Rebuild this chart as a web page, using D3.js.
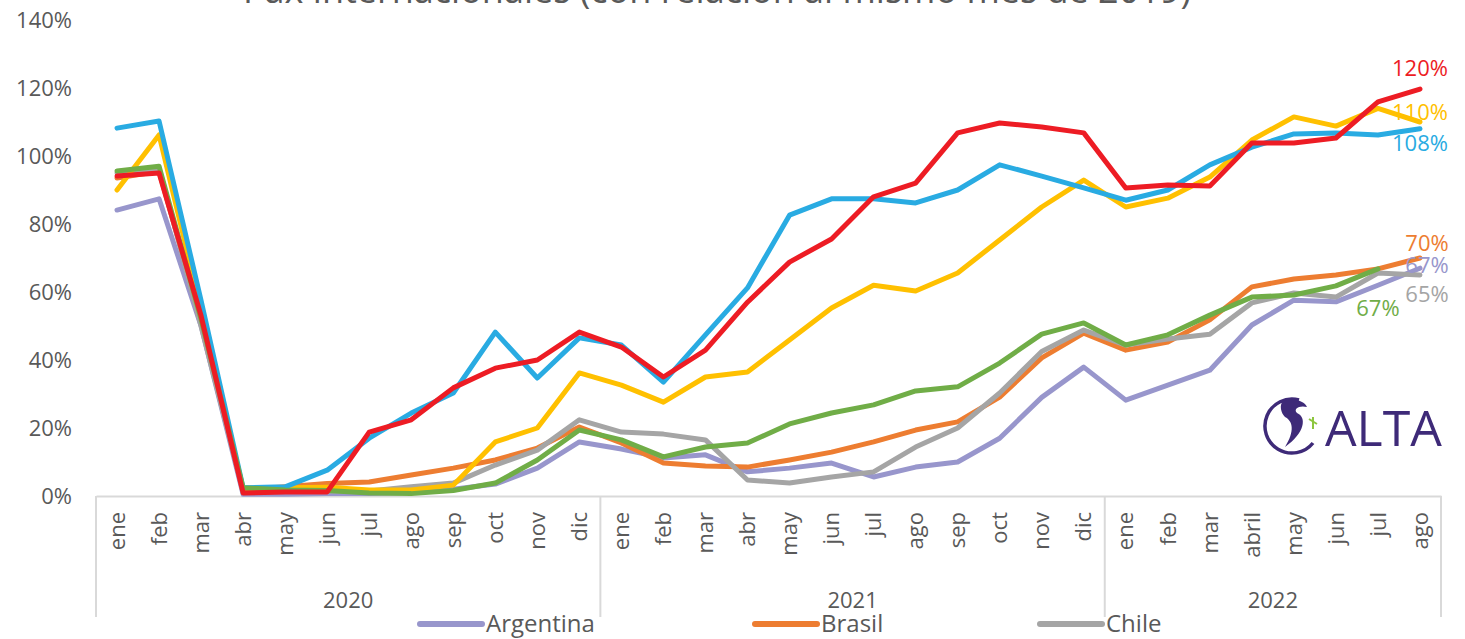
<!DOCTYPE html>
<html>
<head>
<meta charset="utf-8">
<script src="https://cdn.jsdelivr.net/npm/d3@7"></script>
<style>
  body { margin: 0; background: #fff; }
  svg { display: block; font-family: "Open Sans", "Noto Sans", sans-serif; }
</style>
</head>
<body>
<div id="chart"></div>
<script>
// Pax internacionales - line chart, % vs same month of 2019

const titleText = 'Pax internacionales (con relación al mismo mes de 2019)';

const years = ['2020', '2021', '2022'];
const months2020 = ['ene', 'feb', 'mar', 'abr', 'may', 'jun', 'jul', 'ago', 'sep', 'oct', 'nov', 'dic'];
const months2021 = ['ene', 'feb', 'mar', 'abr', 'may', 'jun', 'jul', 'ago', 'sep', 'oct', 'nov', 'dic'];
const months2022 = ['ene', 'feb', 'mar', 'abril', 'may', 'jun', 'jul', 'ago'];

const yTicks = [0, 20, 40, 60, 80, 100, 120, 140];

const countries = ['Argentina', 'Brasil', 'Chile', 'Colombia', 'México', 'Perú', 'Rep. Dominicana'];

const argentina = [84.1, 87.4, 50, 0.5, 0.5, 0.7, 0.7, 1.0, 2.0, 3.5, 8.2, 15.9,
    13.8, 11.2, 12.1, 7.1, 8.2, 9.7, 5.6, 8.5, 10.0, 17.0, 29.0, 37.9,
    28.2, 32.6, 37.0, 50.3, 57.6, 57.1, 62.0, 67.0];
const brasil = [93.5, 95.5, 52, 1.8, 2.7, 3.7, 4.1, 6.2, 8.2, 10.6, 14.1, 20.3,
    15.6, 9.7, 8.8, 8.5, 10.6, 12.9, 15.9, 19.4, 21.8, 29.1, 40.6, 47.9,
    42.9, 45.3, 51.8, 61.5, 63.8, 65.0, 66.8, 70.0];
const chile = [95.0, 96.5, 50, 1.5, 1.5, 1.5, 1.5, 2.7, 3.8, 9.1, 13.5, 22.4,
    18.8, 18.2, 16.5, 4.7, 3.8, 5.6, 7.1, 14.4, 20.0, 30.3, 42.5, 48.8,
    44.4, 46.2, 47.6, 56.8, 59.7, 58.5, 65.6, 65.0];
const colombia = [90.0, 106.2, 55, 1.8, 2.4, 2.6, 1.8, 1.8, 3.2, 15.9, 20.0, 36.2,
    32.6, 27.6, 35.0, 36.5, 45.9, 55.3, 62.0, 60.3, 65.6, 75.3, 85.0, 92.9,
    85.0, 87.6, 93.8, 104.7, 111.5, 108.8, 114.0, 110.0];
const mexico = [108.2, 110.3, 57.5, 2.4, 2.7, 7.6, 17.0, 24.4, 30.3, 48.2, 34.7, 46.5,
    44.4, 33.5, 47.4, 61.2, 82.6, 87.4, 87.4, 86.2, 90.0, 97.4, 94.1, 90.6,
    87.0, 90.0, 97.4, 102.6, 106.5, 106.8, 106.2, 108.0];
const peru = [95.6, 97.0, 52, 2.4, 1.8, 1.6, 0.9, 0.7, 1.6, 3.8, 10.6, 19.4,
    16.5, 11.5, 14.4, 15.6, 21.2, 24.4, 26.8, 30.9, 32.1, 39.1, 47.6, 50.9,
    44.4, 47.4, 53.2, 58.5, 59.1, 61.8, 66.8, null];
const repDominicana = [94.1, 95.0, 53, 0.9, 1.2, 1.2, 18.8, 22.4, 31.8, 37.6, 40.0, 48.2,
    43.8, 35.0, 42.9, 57.0, 68.8, 75.6, 88.0, 92.0, 106.8, 109.7, 108.5, 106.8,
    90.6, 91.5, 91.2, 103.8, 103.8, 105.3, 115.9, 119.7];

// styling, kept apart from the data
const colorMap = {
    'Argentina': '#9896cc',
    'Brasil': '#ed7d31',
    'Chile': '#a5a5a5',
    'Colombia': '#ffc000',
    'México': '#29abe2',
    'Perú': '#70ad47',
    'Rep. Dominicana': '#ed1c24'
};
// end label nudges (px) relative to last point
const labelNudge = {
    'Argentina': [7, -3],
    'Brasil': [7, -15],
    'Chile': [7, 19],
    'Colombia': [0, -10],
    'México': [0, 14],
    'Perú': [0, 39],
    'Rep. Dominicana': [0, -21]
};

const seriesValues = [argentina, brasil, chile, colombia, mexico, peru, repDominicana];
const monthGroups = [months2020, months2021, months2022];

const categories = [];
monthGroups.forEach((ms, yi) => ms.forEach(m => categories.push({ key: years[yi] + '-' + m, label: m, year: years[yi] })));

const series = countries.map((name, i) => ({
    name,
    values: seriesValues[i].map((v, j) => ({ key: categories[j].key, v }))
}));

const W = 1465, H = 639;
const margin = { top: 20, right: 24, bottom: 143, left: 96 };
const width = W - margin.left - margin.right;
const height = H - margin.top - margin.bottom;

const svg = d3.select('#chart').append('svg')
    .attr('width', W)
    .attr('height', H);

svg.append('text')
    .attr('x', 717)
    .attr('y', 3)
    .attr('text-anchor', 'middle')
    .attr('font-size', 36)
    .attr('fill', '#595959')
    .text(titleText);

const g = svg.append('g')
    .attr('transform', `translate(${margin.left},${margin.top})`);

const x = d3.scaleBand().domain(categories.map(d => d.key)).range([0, width]);
const y = d3.scaleLinear().domain([0, 140]).range([height, 0]);

// y axis - labels only
const yAxis = g.append('g')
    .call(d3.axisLeft(y).tickValues(yTicks).tickSize(0).tickPadding(24).tickFormat(d => d + '%'));
yAxis.select('.domain').remove();
yAxis.selectAll('text')
    .attr('font-size', 22)
    .attr('font-family', '"Open Sans", sans-serif')
    .attr('fill', '#595959');

// x axis - months rotated
const xAxis = g.append('g')
    .attr('transform', `translate(0,${height})`)
    .call(d3.axisBottom(x).tickSize(0).tickFormat(k => categories.find(c => c.key === k).label));
xAxis.select('.domain').attr('stroke', '#d9d9d9').attr('stroke-width', 2);
xAxis.selectAll('text')
    .attr('font-size', 22)
    .attr('font-family', '"Open Sans", sans-serif')
    .attr('fill', '#595959')
    .attr('transform', 'rotate(-90)')
    .attr('text-anchor', 'end')
    .attr('x', -16)
    .attr('y', 0)
    .attr('dy', '0.35em');

// year groups
const yearInfo = years.map(yr => {
    const keys = categories.filter(c => c.year === yr).map(c => c.key);
    return { yr, x0: x(keys[0]), x1: x(keys[keys.length - 1]) + x.bandwidth() };
});
const bounds = [0].concat(yearInfo.map(d => d.x1));
g.append('g').selectAll('line')
    .data(bounds)
    .join('line')
    .attr('x1', d => d).attr('x2', d => d)
    .attr('y1', height).attr('y2', height + 121)
    .attr('stroke', '#d9d9d9')
    .attr('stroke-width', 2);
g.append('g').selectAll('text')
    .data(yearInfo)
    .join('text')
    .attr('x', d => (d.x0 + d.x1) / 2)
    .attr('y', height + 112)
    .attr('text-anchor', 'middle')
    .attr('font-size', 22)
    .attr('fill', '#595959')
    .text(d => d.yr);

// lines
const line = d3.line()
    .defined(d => d.v != null)
    .x(d => x(d.key) + x.bandwidth() / 2)
    .y(d => y(d.v));

g.append('g').selectAll('path')
    .data(series)
    .join('path')
    .attr('fill', 'none')
    .attr('stroke', d => colorMap[d.name])
    .attr('stroke-width', 5)
    .attr('stroke-linejoin', 'round')
    .attr('stroke-linecap', 'round')
    .attr('d', d => line(d.values));

// end labels
g.append('g').selectAll('text')
    .data(series.map(s => {
        const pts = s.values.filter(p => p.v != null);
        return { name: s.name, last: pts[pts.length - 1] };
    }))
    .join('text')
    .attr('x', d => x(d.last.key) + x.bandwidth() / 2 + labelNudge[d.name][0])
    .attr('y', d => y(d.last.v) + labelNudge[d.name][1])
    .attr('dy', '0.35em')
    .attr('text-anchor', 'middle')
    .attr('font-size', 22)
    .attr('fill', d => colorMap[d.name])
    .text(d => Math.round(d.last.v) + '%');

// ALTA logo
const logo = svg.append('g').attr('transform', 'translate(1291,427)');
logo.append('path')
    .attr('d', 'M 8 -27 A 27 27 0 1 0 22 16')
    .attr('fill', 'none')
    .attr('stroke', '#3e2a78')
    .attr('stroke-width', 3.5);
logo.append('path')
    .attr('d', 'M -8 -26 C 2 -30 14 -26 16 -20 C 8 -22 2 -18 6 -14 C 16 -10 14 6 -6 20 C 4 4 2 -6 -6 -10 C -10 -14 -12 -22 -8 -26 Z')
    .attr('fill', '#3e2a78');
logo.append('path')
    .attr('d', 'M 18 -8 L 26 -3 M 22 -10 L 22 2')
    .attr('stroke', '#8dc63f')
    .attr('stroke-width', 2);
svg.append('text')
    .attr('x', 1325)
    .attr('y', 446)
    .attr('font-size', 50)
    .attr('font-family', '"Open Sans", sans-serif')
    .attr('fill', '#3e2a78')
    .text('ALTA');

// legend (only first row falls inside the picture)
const legendCols = [420, 755, 1040];
const legend = svg.append('g').selectAll('g')
    .data(countries)
    .join('g')
    .attr('transform', (d, i) => `translate(${legendCols[i % 3]},${624 + Math.floor(i / 3) * 36})`);
legend.append('line')
    .attr('x1', 0).attr('x2', 62)
    .attr('stroke', d => colorMap[d])
    .attr('stroke-width', 6)
    .attr('stroke-linecap', 'round');
legend.append('text')
    .attr('x', 66)
    .attr('dy', '0.35em')
    .attr('font-size', 24)
    .attr('fill', '#595959')
    .text(d => d);
</script>
</body>
</html>
